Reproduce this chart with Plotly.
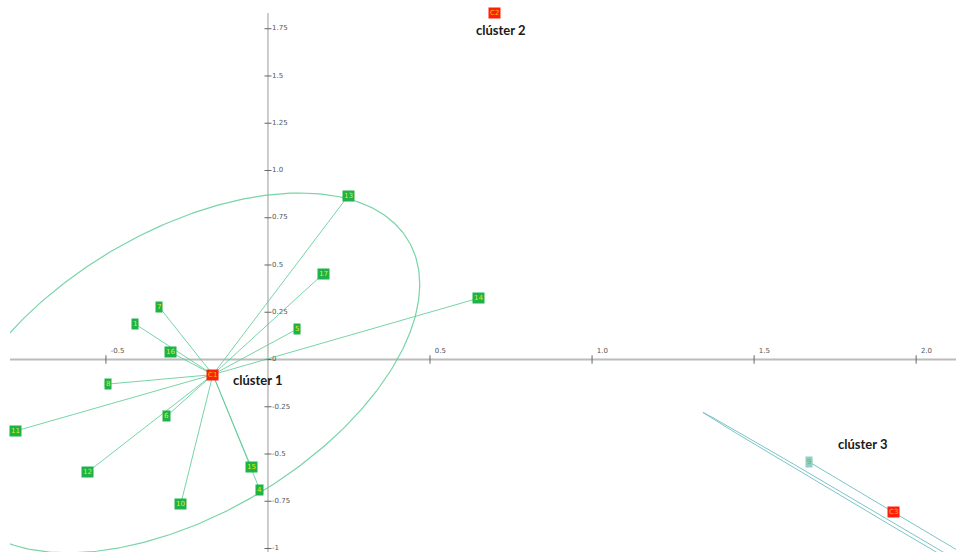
import numpy as np
import plotly.graph_objects as go

# --- observations (first-plane coordinates) ---
c1_labels = ["7", "1", "16", "8", "6", "11", "12", "10", "15", "4", "13", "17", "5", "14"]
c1_x = [-0.336, -0.410, -0.302, -0.494, -0.312, -0.778, -0.556, -0.269, -0.052, -0.025, 0.247, 0.170, 0.090, 0.651]
c1_y = [0.278, 0.188, 0.040, -0.130, -0.299, -0.378, -0.595, -0.764, -0.569, -0.690, 0.865, 0.452, 0.161, 0.325]

c3_labels = ["9", "2"]
c3_x = [1.670, 2.188]
c3_y = [-0.542, -1.071]

# cluster centres
centre_labels = ["C1", "C2", "C3"]
centre_x = [-0.170, 0.698, 1.929]
centre_y = [-0.080, 1.833, -0.807]

# dispersion ellipses: centre, first and second conjugate semi-axis vectors
ell1_centre = [-0.259, -0.071]
ell1_u = [0.358, 0.952]
ell1_v = [0.633, 0.0]
ell3_centre = [2.140, -1.086]
ell3_u = [0.798, -0.806]
ell3_v = [-0.0031, -0.0091]

# axis ticks
xtick_vals = [-0.5, 0.5, 1.0, 1.5, 2.0]
xtick_text = ["-0.5", "0.5", "1.0", "1.5", "2.0"]
ytick_vals = [1.75, 1.5, 1.25, 1.0, 0.75, 0.5, 0.25, 0.0, -0.25, -0.5, -0.75, -1.0]
ytick_text = ["1.75", "1.5", "1.25", "1.0", "0.75", "0.5", "0.25", "0", "-0.25", "-0.5", "-0.75", "-1"]

cluster_names = ["clúster 1", "clúster 2", "clúster 3"]
name_x = [-0.114, 0.636, 1.753]
name_y = [-0.108, 1.743, -0.447]

X_RANGE = [-0.796, 2.123]
Y_RANGE = [-1.0185, 1.902]

GREEN_LINE = "rgba(95,205,150,0.85)"
TEAL_LINE = "rgba(110,190,195,0.9)"
BOX_GREEN = "#1fb24b"
BOX_RED = "#ff1e0a"
BOX_TEAL = "#8fcfc8"
LABEL_YELLOW = "#dcf000"
TICK_GREY = "#666666"


def spokes(cx, cy, xs, ys):
    sx, sy = [], []
    for x, y in zip(xs, ys):
        sx += [cx, x, None]
        sy += [cy, y, None]
    return sx, sy


def ellipse(c, u, v, n=400):
    t = np.linspace(0, 2 * np.pi, n)
    return (c[0] + u[0] * np.cos(t) + v[0] * np.sin(t),
            c[1] + u[1] * np.cos(t) + v[1] * np.sin(t))


fig = go.Figure()

# coordinate axes through the origin
fig.add_shape(type="line", x0=X_RANGE[0], x1=X_RANGE[1], y0=0, y1=0,
              line=dict(color="#bbbbbb", width=2), layer="below")
fig.add_shape(type="line", x0=0, x1=0, y0=Y_RANGE[0], y1=1.833,
              line=dict(color="#9a9a9a", width=1), layer="below")

# tick marks and tick labels
fig.add_trace(go.Scatter(x=xtick_vals, y=[0] * len(xtick_vals), mode="markers+text",
                         marker=dict(symbol="line-ns-open", size=6, color=TICK_GREY,
                                     line=dict(color=TICK_GREY, width=1)),
                         text=xtick_text, textposition="top right",
                         textfont=dict(size=7, color="#555", family="DejaVu Sans"),
                         hoverinfo="skip"))
fig.add_trace(go.Scatter(x=[0] * len(ytick_vals), y=ytick_vals, mode="markers+text",
                         marker=dict(symbol="line-ew-open", size=5, color=TICK_GREY,
                                     line=dict(color=TICK_GREY, width=1)),
                         text=ytick_text, textposition="middle right",
                         textfont=dict(size=7, color="#555", family="DejaVu Sans"),
                         hoverinfo="skip"))

# ellipses
ex, ey = ellipse(ell1_centre, ell1_u, ell1_v)
fig.add_trace(go.Scatter(x=ex, y=ey, mode="lines", line=dict(color=GREEN_LINE, width=1.2),
                         hoverinfo="skip"))
ex, ey = ellipse(ell3_centre, ell3_u, ell3_v)
fig.add_trace(go.Scatter(x=ex, y=ey, mode="lines", line=dict(color=TEAL_LINE, width=1),
                         hoverinfo="skip"))

# centre-to-observation spokes
sx, sy = spokes(centre_x[0], centre_y[0], c1_x, c1_y)
fig.add_trace(go.Scatter(x=sx, y=sy, mode="lines", line=dict(color=GREEN_LINE, width=1),
                         hoverinfo="skip"))
sx, sy = spokes(centre_x[2], centre_y[2], c3_x, c3_y)
fig.add_trace(go.Scatter(x=sx, y=sy, mode="lines", line=dict(color=TEAL_LINE, width=1),
                         hoverinfo="skip"))

# observation markers
fig.add_trace(go.Scatter(x=c1_x, y=c1_y, mode="markers", text=c1_labels,
                         marker=dict(symbol="square", size=6, color=BOX_GREEN)))
fig.add_trace(go.Scatter(x=c3_x, y=c3_y, mode="markers", text=c3_labels,
                         marker=dict(symbol="square", size=6, color=BOX_TEAL)))
fig.add_trace(go.Scatter(x=centre_x, y=centre_y, mode="markers", text=centre_labels,
                         marker=dict(symbol="square", size=8, color=BOX_RED)))

# labelled boxes
annotations = []
for lab, x, y in zip(c1_labels, c1_x, c1_y):
    annotations.append(dict(x=x, y=y, text=lab, showarrow=False, bgcolor=BOX_GREEN,
                            borderpad=1, font=dict(size=7, color=LABEL_YELLOW, family="DejaVu Sans")))
for lab, x, y in zip(c3_labels, c3_x, c3_y):
    annotations.append(dict(x=x, y=y, text=lab, showarrow=False, bgcolor=BOX_TEAL,
                            borderpad=1, font=dict(size=7, color="#6cbf30", family="DejaVu Sans")))
for lab, x, y in zip(centre_labels, centre_x, centre_y):
    annotations.append(dict(x=x, y=y, text=lab, showarrow=False, bgcolor=BOX_RED,
                            borderpad=1, font=dict(size=7, color="#f0c000", family="DejaVu Sans")))

# cluster names
for name, x, y in zip(cluster_names, name_x, name_y):
    annotations.append(dict(x=x, y=y, text="<b>" + name + "</b>", showarrow=False,
                            xanchor="left", yanchor="middle",
                            font=dict(size=13, color="#1a1a1a", family="Lato")))

fig.update_layout(
    width=956, height=552,
    margin=dict(l=10, r=0, t=0, b=0),
    paper_bgcolor="white", plot_bgcolor="white",
    showlegend=False,
    xaxis=dict(range=X_RANGE, visible=False),
    yaxis=dict(range=Y_RANGE, visible=False),
    annotations=annotations,
)

fig.write_html("out.html")
